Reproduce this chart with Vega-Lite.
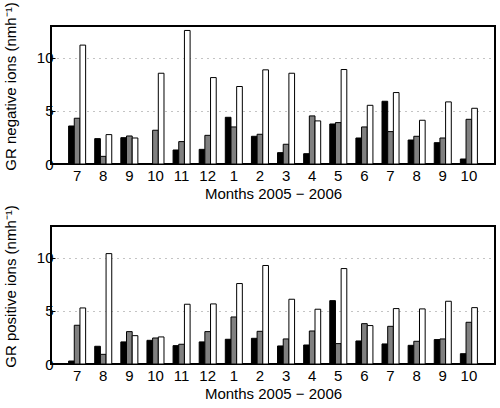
{
  "$schema": "https://vega.github.io/schema/vega-lite/v6.json",
  "padding": {"left": 2, "top": 0, "right": 4, "bottom": 2},
  "background": "white",
  "config": {
    "font": "Liberation Sans",
    "view": {"stroke": "black", "strokeWidth": 2},
    "axis": {
      "labelFont": "Liberation Sans",
      "labelFontSize": 15,
      "labelColor": "black",
      "titleFont": "Liberation Sans",
      "titleFontSize": 15,
      "titleFontWeight": "normal",
      "titleColor": "black",
      "domainColor": "black",
      "tickColor": "black",
      "tickSize": -4,
      "grid": false
    },
    "bar": {"stroke": "black", "strokeWidth": 1}
  },
  "datasets": {
    "neg": [
      {"month": "2005-07", "s1": 3.58, "s2": 4.31, "s3": 11.2},
      {"month": "2005-08", "s1": 2.39, "s2": 0.72, "s3": 2.77},
      {"month": "2005-09", "s1": 2.48, "s2": 2.64, "s3": 2.45},
      {"month": "2005-10", "s1": null, "s2": 3.18, "s3": 8.55},
      {"month": "2005-11", "s1": 1.32, "s2": 2.11, "s3": 12.58},
      {"month": "2005-12", "s1": 1.38, "s2": 2.7, "s3": 8.14},
      {"month": "2006-01", "s1": 4.4, "s2": 3.49, "s3": 7.3},
      {"month": "2006-02", "s1": 2.61, "s2": 2.8, "s3": 8.87},
      {"month": "2006-03", "s1": 1.07, "s2": 1.86, "s3": 8.55},
      {"month": "2006-04", "s1": 0.97, "s2": 4.53, "s3": 4.06},
      {"month": "2006-05", "s1": 3.77, "s2": 3.9, "s3": 8.9},
      {"month": "2006-06", "s1": 2.45, "s2": 3.49, "s3": 5.53},
      {"month": "2006-07", "s1": 5.91, "s2": 3.05, "s3": 6.73},
      {"month": "2006-08", "s1": 2.26, "s2": 2.61, "s3": 4.12},
      {"month": "2006-09", "s1": 2.01, "s2": 2.45, "s3": 5.85},
      {"month": "2006-10", "s1": 0.47, "s2": 4.21, "s3": 5.25}
    ],
    "pos": [
      {"month": "2005-07", "s1": 0.28, "s2": 3.65, "s3": 5.28},
      {"month": "2005-08", "s1": 1.67, "s2": 0.91, "s3": 10.4},
      {"month": "2005-09", "s1": 2.08, "s2": 3.05, "s3": 2.67},
      {"month": "2005-10", "s1": 2.23, "s2": 2.45, "s3": 2.55},
      {"month": "2005-11", "s1": 1.73, "s2": 1.86, "s3": 5.63},
      {"month": "2005-12", "s1": 2.08, "s2": 3.05, "s3": 5.66},
      {"month": "2006-01", "s1": 2.33, "s2": 4.43, "s3": 7.58},
      {"month": "2006-02", "s1": 2.42, "s2": 3.08, "s3": 9.28},
      {"month": "2006-03", "s1": 1.7, "s2": 2.36, "s3": 6.1},
      {"month": "2006-04", "s1": 1.79, "s2": 3.11, "s3": 5.16},
      {"month": "2006-05", "s1": 5.97, "s2": 1.92, "s3": 8.99},
      {"month": "2006-06", "s1": 2.17, "s2": 3.8, "s3": 3.62},
      {"month": "2006-07", "s1": 1.89, "s2": 3.55, "s3": 5.22},
      {"month": "2006-08", "s1": 1.76, "s2": 2.14, "s3": 5.19},
      {"month": "2006-09", "s1": 2.3, "s2": 2.36, "s3": 5.91},
      {"month": "2006-10", "s1": 0.97, "s2": 3.93, "s3": 5.31}
    ]
  },
  "bounds": "flush",
  "spacing": 62,
  "vconcat": [
    {
      "width": 444,
      "height": 138,
      "data": {"name": "neg"},
      "transform": [{"fold": ["s1", "s2", "s3"], "as": ["series", "gr"]}],
      "mark": "bar",
      "encoding": {
        "x": {
          "field": "month", "type": "ordinal",
          "scale": {"paddingInner": 0, "paddingOuter": 0.5},
          "axis": {"labelExpr": "toNumber(substring(datum.value, 5, 7)) + ''", "labelAngle": 0, "labelPadding": 8, "title": "Months 2005 − 2006", "titlePadding": 3}
        },
        "xOffset": {"field": "series", "scale": {"paddingInner": 0, "paddingOuter": 0.8}},
        "y": {
          "field": "gr", "type": "quantitative",
          "scale": {"domain": [0, 13], "nice": false},
          "axis": {"values": [0, 5, 10], "grid": true, "gridDash": [1, 5], "gridColor": "#888888", "labelPadding": 2, "title": "GR negative ions (nmh⁻¹)", "titlePadding": 18, "titleY": 60}
        },
        "fill": {"field": "series", "scale": {"domain": ["s1", "s2", "s3"], "range": ["#000000", "#808080", "#ffffff"]}, "legend": null}
      }
    },
    {
      "width": 444,
      "height": 138,
      "data": {"name": "pos"},
      "transform": [{"fold": ["s1", "s2", "s3"], "as": ["series", "gr"]}],
      "mark": "bar",
      "encoding": {
        "x": {
          "field": "month", "type": "ordinal",
          "scale": {"paddingInner": 0, "paddingOuter": 0.5},
          "axis": {"labelExpr": "toNumber(substring(datum.value, 5, 7)) + ''", "labelAngle": 0, "labelPadding": 8, "title": "Months 2005 − 2006", "titlePadding": 3}
        },
        "xOffset": {"field": "series", "scale": {"paddingInner": 0, "paddingOuter": 0.8}},
        "y": {
          "field": "gr", "type": "quantitative",
          "scale": {"domain": [0, 13], "nice": false},
          "axis": {"values": [0, 5, 10], "grid": true, "gridDash": [1, 5], "gridColor": "#888888", "labelPadding": 2, "title": "GR positive ions (nmh⁻¹)", "titlePadding": 18, "titleY": 60}
        },
        "fill": {"field": "series", "scale": {"domain": ["s1", "s2", "s3"], "range": ["#000000", "#808080", "#ffffff"]}, "legend": null}
      }
    }
  ]
}
